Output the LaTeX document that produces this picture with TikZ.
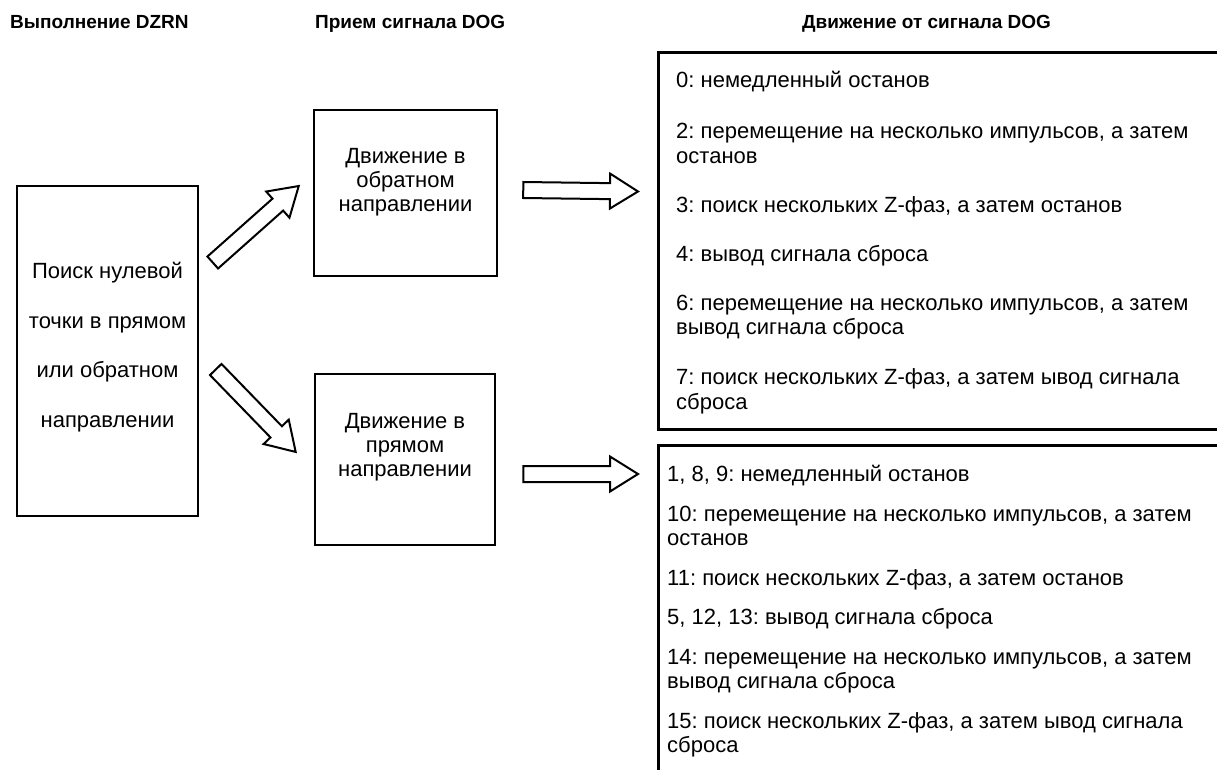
\documentclass[tikz,border=0pt]{standalone}
\usepackage{fontspec}
\setmainfont{Liberation Sans}
\usetikzlibrary{positioning,calc}
\frenchspacing

% 空心箭头：从 #1 指向 #2
\newcommand{\blockarrow}[2]{%
  \path let \p1=($(#2)-(#1)$), \n1={atan2(\y1,\x1)}, \n2={veclen(\x1,\y1)} in
    \pgfextra{\xdef\arrang{\n1}\xdef\arrlen{\n2}};
  \draw[blockarr, shift={(#1)}, rotate=\arrang]
    (0,-8) -- (\arrlen-28,-8) -- (\arrlen-28,-17.5) -- (\arrlen,0)
    -- (\arrlen-28,17.5) -- (\arrlen-28,8) -- (0,8) -- cycle;}

\begin{document}
\begin{tikzpicture}[x=1pt, y=1pt,
  box/.style={draw, line width=2.5pt, inner sep=0pt},
  bigbox/.style={draw, line width=3pt, inner sep=0pt, anchor=north west, minimum width=600},
  head/.style={font=\bfseries\fontsize{19}{22}\selectfont, anchor=base west, inner sep=0pt},
  txt/.style={font=\fontsize{22}{24}\selectfont, align=center, inner sep=0pt},
  list/.style={font=\fontsize{22}{24.5}\selectfont, align=left, anchor=base west, inner sep=0pt},
  blockarr/.style={draw, line width=2pt, fill=white, line join=miter}]

  \useasboundingbox (0,0) rectangle (1217,-769);

  % 1. 标题
  \node[head] (h1) at (10,-28)  {Выполнение DZRN};
  \node[head] (h2) at (315,-28) {Прием сигнала DOG};
  \node[head] (h3) at (802,-28) {Движение от сигнала DOG};

  % 2. 左框
  \node[box, minimum width=181, minimum height=330] (dzrn) at (107.5,-351) {};
  \node[txt, font=\fontsize{22}{49.5}\selectfont] (dzrn-t) at ([yshift=4]dzrn.center)
    {Поиск нулевой\\точки в прямом\\или обратном\\направлении};

  % 3. 中间两框
  \node[box, minimum width=183, minimum height=166] (rev) at (405.5,-193) {};
  \node[txt] (rev-t) at ([yshift=11]rev.center) {Движение в\\обратном\\направлении};
  \node[box, minimum width=180, minimum height=171] (fwd) at (405,-459.5) {};
  \node[txt] (fwd-t) at ([yshift=12.5]fwd.center) {Движение в\\прямом\\направлении};

  % 4. 右侧两框（超出画面），文字基线对齐最后一行
  \node[bigbox, minimum height=377] (stop) at (657,-51) {};
  \node[bigbox, minimum height=360] (go) at (657,-444) {};

  \node[list] (stop-t) at (676,-409)
    {0: немедленный останов\\[26.5pt]
     2: перемещение на несколько импульсов, а затем\\останов\\[24.5pt]
     3: поиск нескольких Z-фаз, а затем останов\\[24.5pt]
     4: вывод сигнала сброса\\[24.5pt]
     6: перемещение на несколько импульсов, а затем\\вывод сигнала сброса\\[25.5pt]
     7: поиск нескольких Z-фаз, а затем ывод сигнала\\сброса};
  \node[list, font=\fontsize{22}{24}\selectfont] (go-t) at (667,-752)
    {1, 8, 9: немедленный останов\\[16pt]
     10: перемещение на несколько импульсов, а затем\\останов\\[16pt]
     11: поиск нескольких Z-фаз, а затем останов\\[15pt]
     5, 12, 13: вывод сигнала сброса\\[16pt]
     14: перемещение на несколько импульсов, а затем\\вывод сигнала сброса\\[16pt]
     15: поиск нескольких Z-фаз, а затем ывод сигнала\\сброса};

  % 5. 箭头
  \coordinate (a1s) at ($(dzrn.east)+(13.5,88.5)$);
  \coordinate (a1e) at ($(rev.west)+(-14,7)$);
  \coordinate (a2s) at ($(dzrn.east)+(16.5,-18.5)$);
  \coordinate (a2e) at ($(fwd.west)+(-18,7.5)$);
  \coordinate (a3s) at ($(rev.east)+(25,3)$);
  \coordinate (a3e) at ($(stop.west)+(-19,49.5)$);
  \coordinate (a4s) at ($(fwd.east)+(27,-14.5)$);
  \coordinate (a4e) at ($(go.north west)+(-19,-30)$);

  \blockarrow{a1s}{a1e}
  \blockarrow{a2s}{a2e}
  \blockarrow{a3s}{a3e}
  \blockarrow{a4s}{a4e}

\end{tikzpicture}
\end{document}
